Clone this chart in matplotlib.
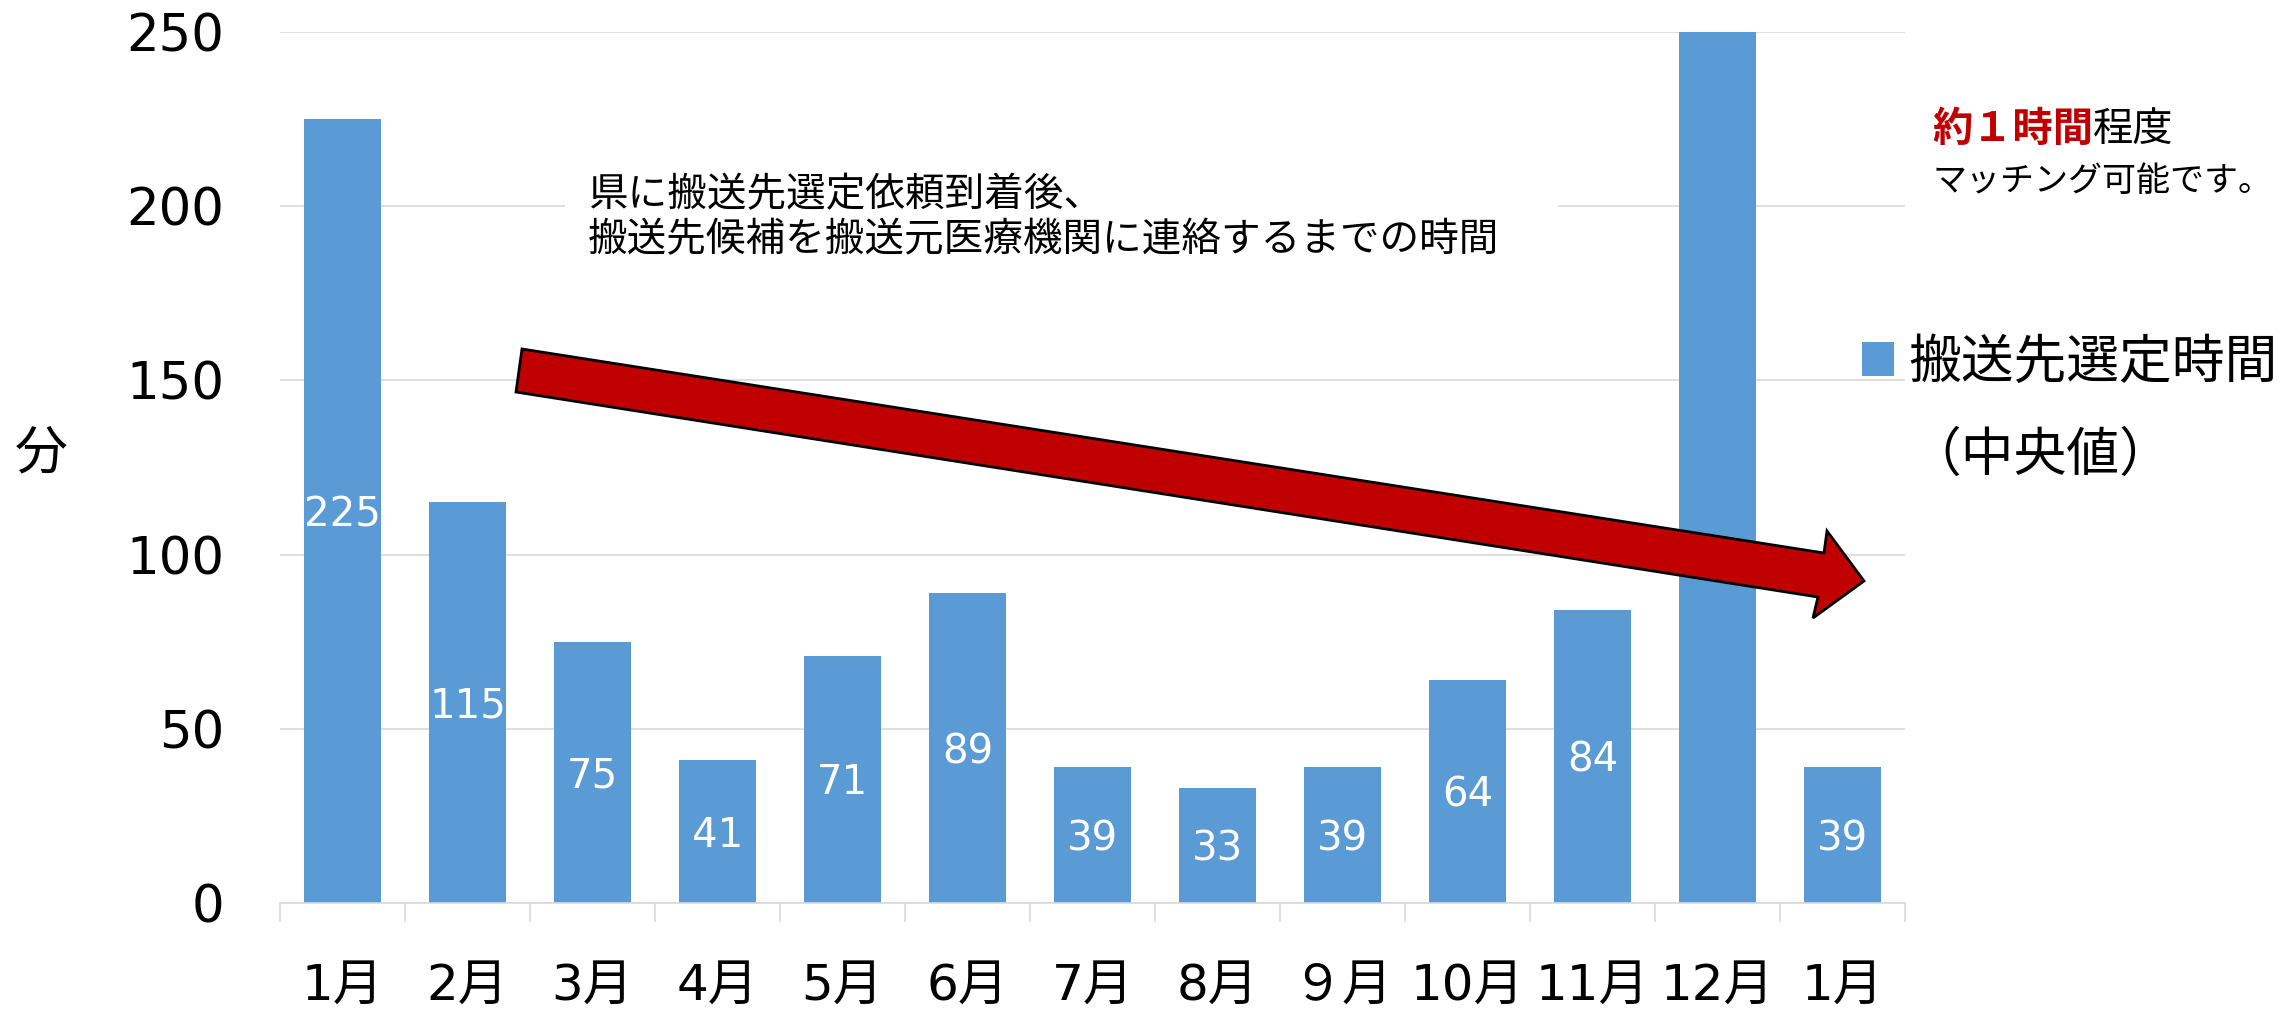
import matplotlib
matplotlib.use("Agg")
import matplotlib.pyplot as plt
from matplotlib.patches import Polygon, Rectangle

# Monthly median time (minutes) to select a transfer destination
months = ["1月", "2月", "3月", "4月", "5月", "6月", "7月", "8月", "９月", "10月", "11月", "12月", "1月"]
minutes = [225, 115, 75, 41, 71, 89, 39, 33, 39, 64, 84, 520, 39]
y_ticks = [0, 50, 100, 150, 200, 250]
Y_MAX = 250

JP = ["Noto Sans CJK JP", "DejaVu Sans"]
NUM = ["DejaVu Sans", "Noto Sans CJK JP"]
BAR = "#5B9BD5"
GRID = "#D9D9D9"
RED = "#C00000"

W, H = 2287, 1014
fig = plt.figure(figsize=(W / 100, H / 100), dpi=100)


def fx(px):
    return px / W


def fy(py):
    return 1 - py / H


ax = fig.add_axes([fx(280), fy(903), fx(1905) - fx(280), fy(32) - fy(903)])
x = list(range(len(months)))
bars = ax.bar(x, minutes, width=0.615, color=BAR, zorder=2)

# Value labels sit in the middle of each bar; those past the axis top are left out
for xi, v in zip(x, minutes):
    if v / 2 > Y_MAX:
        continue
    ax.annotate(str(v), xy=(xi, v / 2), xytext=(0, -3), textcoords="offset points",
                ha="center", va="center", color="white", fontsize=29, family=NUM, zorder=3)

ax.set_xlim(-0.5, len(months) - 0.5)
ax.set_ylim(0, Y_MAX)
ax.set_yticks(y_ticks)
ax.set_yticklabels([str(t) for t in y_ticks], fontsize=37, family=NUM)
ax.tick_params(axis="y", length=0, pad=40)

ax.set_xticks(x)
ax.set_xticklabels(months, fontsize=36, family=NUM)
ax.set_xticks([i - 0.5 for i in range(len(months) + 1)], minor=True)
ax.tick_params(axis="x", which="major", length=0, pad=42)
ax.tick_params(axis="x", which="minor", length=14, width=1.2, color=GRID)

ax.yaxis.grid(True, color=GRID, linewidth=1.2, zorder=0)
ax.set_axisbelow(True)
for side in ("top", "right", "left"):
    ax.spines[side].set_visible(False)
ax.spines["bottom"].set_color(GRID)
ax.spines["bottom"].set_linewidth(1.2)

# y-axis unit
fig.text(fx(41), fy(453), "分", fontsize=38, family=JP, ha="center", va="center")

# Legend
ax.legend([bars], ["搬送先選定時間"], loc="center left",
          bbox_to_anchor=(fx(1862), fy(362)), bbox_transform=fig.transFigure,
          frameon=False, borderpad=0, borderaxespad=0,
          handlelength=0.6, handleheight=0.6, handletextpad=0.28,
          prop={"family": JP, "size": 38})
fig.text(fx(1908), fy(455), "（中央値）", fontsize=38, family=JP, ha="left", va="center")

# Annotation box describing the measured interval
fig.add_artist(Rectangle((fx(565), fy(270)), fx(1558) - fx(565), fy(162) - fy(270),
                         transform=fig.transFigure, facecolor="white", edgecolor="none", zorder=1))
fig.text(fx(588), fy(195), "県に搬送先選定依頼到着後、", fontsize=28.5, family=JP,
         ha="left", va="center", zorder=3)
fig.text(fx(588), fy(240), "搬送先候補を搬送元医療機関に連絡するまでの時間", fontsize=28.5, family=JP,
         ha="left", va="center", zorder=3)

# Downward trend arrow
arrow_px = [(522, 349), (1824, 553), (1827, 531), (1864, 581),
            (1813, 618), (1818, 597), (516, 392)]
fig.add_artist(Polygon([(fx(a), fy(b)) for a, b in arrow_px], closed=True,
                       transform=fig.transFigure, facecolor=RED, edgecolor="black",
                       linewidth=2, joinstyle="miter", zorder=2))

# Note on the right
t1 = fig.text(fx(1932), fy(129), "約１時間", fontsize=29, family=JP, weight="bold",
              color=RED, ha="left", va="center")
ax.annotate("程度", xy=(1, 0.5), xycoords=t1, fontsize=29, family=JP,
            color="black", ha="left", va="center")
fig.text(fx(1932), fy(181), "マッチング可能です。", fontsize=24.5, family=JP,
         ha="left", va="center")

fig.savefig("out.png", dpi=100)
